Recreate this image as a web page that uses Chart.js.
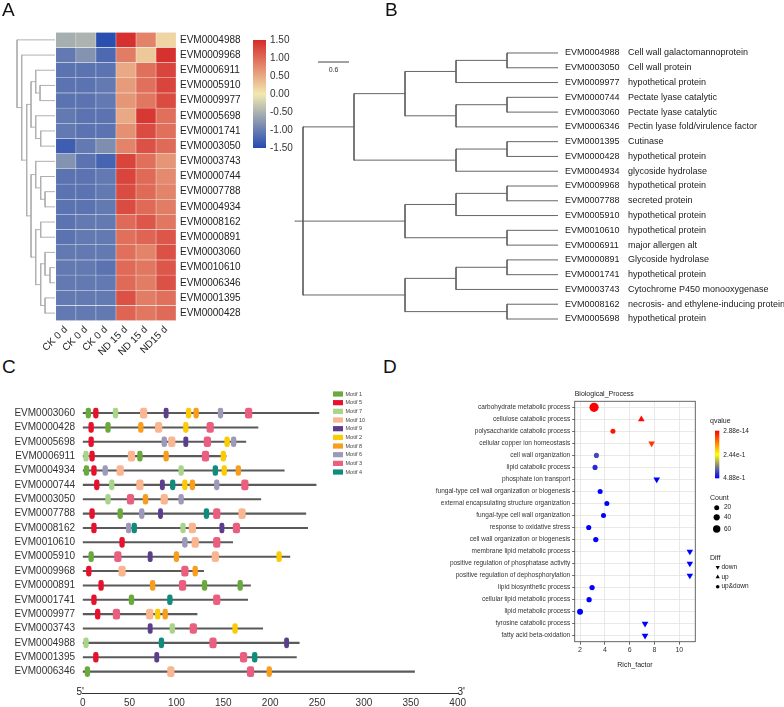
<!DOCTYPE html>
<html>
<head>
<meta charset="utf-8">
<title>Figure</title>
<script src="https://cdn.jsdelivr.net/npm/chart.js@4.4.1/dist/chart.umd.min.js"></script>
<style>
html,body{margin:0;padding:0;background:#fff;overflow:hidden;}
#fig{position:relative;width:784px;height:707px;background:#fff;}
#fig canvas{position:absolute;}
.plabel{position:absolute;font-family:'Liberation Sans',Arial,sans-serif;font-size:19px;line-height:19px;color:#111;}
</style>
</head>
<body>
<div id="fig">
<canvas id="dendA" width="56" height="340" style="left:0px;top:0px"></canvas>
<canvas id="heatA" width="250" height="360" style="left:40px;top:0px"></canvas>
<canvas id="barA" width="70" height="140" style="left:230px;top:20px"></canvas>
<canvas id="treeB" width="494" height="340" style="left:290px;top:0px"></canvas>
<canvas id="motifC" width="470" height="327" style="left:0px;top:380px"></canvas>
<canvas id="goD" width="384" height="327" style="left:400px;top:380px"></canvas>
<div class="plabel" style="left:2px;top:0px">A</div>
<div class="plabel" style="left:385px;top:0px">B</div>
<div class="plabel" style="left:2px;top:357px">C</div>
<div class="plabel" style="left:383px;top:357px">D</div>
</div>
<script>
const FONT = "'Liberation Sans', Arial, Helvetica, sans-serif";
Chart.defaults.font.family = FONT;
Chart.defaults.animation = false;
Chart.defaults.responsive = false;
Chart.defaults.maintainAspectRatio = false;
Chart.defaults.plugins.legend.display = false;
Chart.defaults.plugins.tooltip.enabled = false;
Chart.defaults.events = [];

// ================= Panel A data =================
const heatGenes = ["EVM0004988","EVM0009968","EVM0006911","EVM0005910","EVM0009977","EVM0005698","EVM0001741","EVM0003050","EVM0003743","EVM0000744","EVM0007788","EVM0004934","EVM0008162","EVM0000891","EVM0003060","EVM0010610","EVM0006346","EVM0001395","EVM0000428"];
const heatCols = ["CK 0 d","CK 0 d","CK 0 d","ND 15 d","ND 15 d","ND15 d"];
const ckRep1 = [-0.55,-1.05,-1.1,-1.1,-1.1,-1.05,-1.05,-1.3,-0.8,-1.1,-1.1,-1.1,-1.1,-1.1,-1.05,-1.05,-1.05,-1.05,-1.05];
const ckRep2 = [-0.5,-0.8,-1.1,-1.1,-1.1,-1.1,-1.1,-1.05,-1.1,-1.1,-1.1,-1.1,-1.05,-1.05,-1.05,-1.05,-1.05,-1.05,-1.05];
const ckRep3 = [-1.45,-1.2,-1.1,-1.05,-1.05,-1.1,-1.1,-0.85,-1.25,-1.05,-1.05,-1.05,-1.05,-1.05,-1.05,-1.1,-1.05,-1.05,-1.05];
const ndRep1 = [1.45,0.85,0.5,0.6,0.65,0.5,0.7,0.8,1.3,1.3,1.25,1.25,1.0,0.95,0.95,1.0,1.0,1.2,1.05];
const ndRep2 = [0.8,0.25,0.95,0.95,0.9,1.4,1.25,1.2,0.95,1.0,1.0,1.0,1.15,1.05,0.8,0.9,0.85,0.85,0.9];
const ndRep3 = [0.15,1.45,1.3,1.3,1.25,0.95,0.95,1.0,0.65,0.75,0.8,0.85,0.9,1.15,1.2,1.15,1.2,0.95,1.0];
const heatScaleTicks = [-1.5,-1.0,-0.5,0,0.5,1.0,1.5];
// row dendrogram: [height, child, child]; leaves are row indices
const heatTree = [38, 0, [33.3, 1, [28.3,
  [24, [19.3, 2, [15, 3, 4]], [19.3, 5, [14.3, 6, 7]]],
  [24, [19.3, 8, [14.3, 9, [10, 10, 11]]], [19.3, [14.3, 12, 13], [14.3, [10, 14, [5, 15, 16]], [10, 17, 18]]]]
]]];

// ================= Panel B data =================
const treeGenes = ["EVM0004988","EVM0003050","EVM0009977","EVM0000744","EVM0003060","EVM0006346","EVM0001395","EVM0000428","EVM0004934","EVM0009968","EVM0007788","EVM0005910","EVM0010610","EVM0006911","EVM0000891","EVM0001741","EVM0003743","EVM0008162","EVM0005698"];
const treeDesc = ["Cell wall galactomannoprotein","Cell wall protein","hypothetical protein","Pectate lyase catalytic","Pectate lyase catalytic","Pectin lyase fold/virulence factor","Cutinase","hypothetical protein","glycoside hydrolase","hypothetical protein","secreted protein","hypothetical protein","hypothetical protein","major allergen alt","Glycoside hydrolase","hypothetical protein","Cytochrome P450 monooxygenase","necrosis- and ethylene-inducing protein","hypothetical protein"];
const treeB = [ [ [[[0,1],2],[[3,4],5]], [[6,7],8] ], [[[9,10],11],[12,13]], [[[14,15],16],[17,18]] ];
const treeScaleLabel = "0.6";

// ================= Panel C data =================
const motifGenes = ["EVM0003060","EVM0000428","EVM0005698","EVM0006911","EVM0004934","EVM0000744","EVM0003050","EVM0007788","EVM0008162","EVM0010610","EVM0005910","EVM0009968","EVM0000891","EVM0001741","EVM0009977","EVM0003743","EVM0004988","EVM0001395","EVM0006346"];
const proteinLength = [252,187,174,153,215,249,190,238,240,160,221,129,179,176,122,192,231,228,354];
const motifNames = ["Motif 1","Motif 5","Motif 7","Motif 10","Motif 9","Motif 2","Motif 8","Motif 6","Motif 3","Motif 4"];
const motifColors = ["#6aaa3c","#e8112d","#a9d58a","#f9b690","#5b3f8c","#fbcb05","#f99d1c","#9c99b9","#ea5e80","#0e8c7c"];
const motifWidths = [5,5,5,7,4.5,5,5,5,7,5];
const motif1Sites = [["EVM0003060",6],["EVM0000428",27],["EVM0006911",61],["EVM0004934",4],["EVM0007788",40],["EVM0005910",9],["EVM0000891",130],["EVM0000891",168],["EVM0001741",52],["EVM0006346",5]];
const motif5Sites = [["EVM0003060",14],["EVM0000428",9],["EVM0005698",9],["EVM0006911",10],["EVM0004934",12],["EVM0000744",15],["EVM0007788",10],["EVM0008162",12],["EVM0010610",42],["EVM0009968",6.5],["EVM0000891",19.6],["EVM0001741",12],["EVM0009977",16],["EVM0001395",14]];
const motif7Sites = [["EVM0003060",35],["EVM0006911",3.5],["EVM0004934",105],["EVM0000744",31],["EVM0003050",27],["EVM0008162",107],["EVM0003743",95.6],["EVM0004988",3.5]];
const motif10Sites = [["EVM0003060",65],["EVM0000428",81],["EVM0005698",95],["EVM0006911",52],["EVM0004934",40],["EVM0000744",61],["EVM0003050",87],["EVM0007788",170],["EVM0008162",117],["EVM0010610",120],["EVM0005910",141.5],["EVM0009968",42],["EVM0009977",71.5],["EVM0006346",94]];
const motif9Sites = [["EVM0003060",89],["EVM0005698",110],["EVM0000744",85],["EVM0007788",83],["EVM0008162",148.5],["EVM0005910",72],["EVM0003743",72],["EVM0004988",217.5],["EVM0001395",79]];
const motif2Sites = [["EVM0003060",113],["EVM0000428",110],["EVM0005698",154],["EVM0006911",150],["EVM0004934",151],["EVM0000744",109],["EVM0005910",209.5],["EVM0009977",80],["EVM0003743",162.5]];
const motif8Sites = [["EVM0003060",121],["EVM0000428",62],["EVM0006911",89],["EVM0004934",166],["EVM0000744",117],["EVM0003050",67],["EVM0005910",100],["EVM0009968",120],["EVM0000891",74.6],["EVM0009977",88],["EVM0006346",199]];
const motif6Sites = [["EVM0003060",147],["EVM0005698",87],["EVM0005698",161],["EVM0004934",24],["EVM0000744",143],["EVM0003050",105],["EVM0007788",63],["EVM0008162",49],["EVM0010610",109]];
const motif3Sites = [["EVM0003060",177],["EVM0000428",136],["EVM0005698",133],["EVM0006911",131],["EVM0000744",173],["EVM0003050",51],["EVM0007788",143],["EVM0008162",164],["EVM0010610",143],["EVM0005910",37.5],["EVM0009968",109],["EVM0000891",106.5],["EVM0001741",143],["EVM0009977",36],["EVM0003743",118],["EVM0004988",139],["EVM0001395",171.6],["EVM0006346",179]];
const motif4Sites = [["EVM0004934",141.5],["EVM0000744",96],["EVM0007788",132],["EVM0008162",55],["EVM0001741",93],["EVM0004988",84],["EVM0001395",183.5]];
const motifSites = [motif1Sites,motif5Sites,motif7Sites,motif10Sites,motif9Sites,motif2Sites,motif8Sites,motif6Sites,motif3Sites,motif4Sites];

// ================= Panel D data =================
const goTerms = ["carbohydrate metabolic process","cellulose catabolic process","polysaccharide catabolic process","cellular copper ion homeostasis","cell wall organization","lipid catabolic process","phosphate ion transport","fungal-type cell wall organization or biogenesis","external encapsulating structure organization","fungal-type cell wall organization","response to oxidative stress","cell wall organization or biogenesis","membrane lipid metabolic process","positive regulation of phosphatase activity","positive regulation of dephosphorylation","lipid biosynthetic process","cellular lipid metabolic process","lipid metabolic process","tyrosine catabolic process","fatty acid beta-oxidation"];
const richFactor = [3.13,6.94,4.65,7.77,3.32,3.21,8.18,3.62,4.16,3.89,2.70,3.27,10.85,10.85,10.85,2.97,2.73,2.0,7.24,7.24];
const geneCount = [90,8,20,8,22,22,8,20,20,20,22,24,6,6,6,24,24,36,8,8];
const qValue = [2.88e-14,0.01,0.02,0.05,0.42,0.45,0.488,0.488,0.488,0.488,0.488,0.488,0.488,0.488,0.488,0.488,0.488,0.488,0.488,0.488];
const diffType = ["up&down","up","up&down","down","up&down","up&down","down","up&down","up&down","up&down","up&down","up&down","down","down","down","up&down","up&down","up&down","down","down"];
const qLegendLabels = ["2.88e-14","2.44e-1","4.88e-1"];
const countLegend = [20,40,60];
const diffLegend = ["down","up","up&down"];

// ================= helpers =================
function mix(a, b, t) { return a.map((v, i) => Math.round(v + (b[i] - v) * t)); }
function heatColor(v) {
  const lo = [36,73,177], mid = [242,232,176], hi = [213,43,43];
  const t = Math.max(-1.5, Math.min(1.5, v)) / 1.5;
  const c = t < 0 ? mix(mid, lo, -t) : mix(mid, hi, t);
  return 'rgb(' + c.join(',') + ')';
}
function qColor(q) {
  const t = Math.max(0, Math.min(1, q / 0.488));
  const c = t < 0.5 ? mix([255,0,0],[255,255,0], t*2) : mix([255,255,0],[0,0,255],(t-0.5)*2);
  return 'rgb(' + c.join(',') + ')';
}
function countRadius(n) { return 1.9 + 0.03 * n; }

// ================= Panel A: dendrogram =================
function dendroA(node, segs) {
  if (typeof node === 'number') return {x: 0, y: node};
  const [h, ...kids] = node;
  const pts = kids.map(k => dendroA(k, segs));
  segs.push([[h, pts[0].y], [h, pts[pts.length-1].y]]);
  pts.forEach(p => segs.push([[h, p.y], [p.x, p.y]]));
  return {x: h, y: (pts[0].y + pts[pts.length-1].y) / 2};
}
const segA = []; dendroA(heatTree, segA);
new Chart(document.getElementById('dendA'), {
  type: 'scatter',
  data: { datasets: segA.map(s => ({ data: s.map(([x, y]) => ({x, y})), showLine: true, borderColor: '#b0b0b0', borderWidth: 1, pointRadius: 0, borderCapStyle: 'square' })) },
  options: {
    layout: {padding: {left: 0, right: 1, top: 32.3, bottom: 19.3}},
    scales: {
      x: {type: 'linear', display: false, min: 0, max: 55, reverse: true},
      y: {type: 'linear', display: false, min: -0.5, max: 18.5, reverse: true}
    }
  }
});

// ================= Panel A: heatmap =================
const heatValues = [ckRep1, ckRep2, ckRep3, ndRep1, ndRep2, ndRep3];
new Chart(document.getElementById('heatA'), {
  type: 'bar',
  data: {
    labels: heatGenes,
    datasets: heatCols.map((name, c) => ({
      label: name,
      data: heatGenes.map(() => [c, c + 1]),
      backgroundColor: heatValues[c].map(heatColor),
      borderColor: '#f5f5f5', borderWidth: 0.5, borderSkipped: false,
      barPercentage: 1, categoryPercentage: 1, grouped: false
    }))
  },
  options: {
    indexAxis: 'y',
    layout: {padding: {left: 15, right: 0, top: 32.3, bottom: 0}},
    scales: {
      x: {type: 'linear', position: 'bottom', min: 0, max: heatCols.length,
        afterBuildTicks: s => { s.ticks = heatCols.map((_, i) => ({value: i + 0.5})); },
        afterFit: s => { s.height = 39.3; },
        grid: {display: false, drawTicks: false}, border: {display: false},
        ticks: {autoSkip: false, minRotation: 45, maxRotation: 45, padding: 3, font: {size: 10}, color: '#222',
          callback: (v, i) => heatCols[i]}
      },
      y: {type: 'category', position: 'right',
        afterFit: s => { s.width = 114; },
        grid: {display: false, drawTicks: false}, border: {display: false},
        ticks: {padding: 4, font: {size: 10}, color: '#222', autoSkip: false}
      }
    }
  }
});

// ================= Panel A: colour key =================
new Chart(document.getElementById('barA'), {
  type: 'bar',
  data: { labels: [''], datasets: [{
    data: [[heatScaleTicks[0], heatScaleTicks[heatScaleTicks.length-1]]],
    backgroundColor: ctx => {
      const a = ctx.chart.chartArea; if (!a) return '#ccc';
      const g = ctx.chart.ctx.createLinearGradient(0, a.bottom, 0, a.top);
      for (let i = 0; i <= 12; i++) g.addColorStop(i/12, heatColor(-1.5 + 3*i/12));
      return g;
    },
    borderWidth: 0, barPercentage: 1, categoryPercentage: 1
  }]},
  options: {
    layout: {padding: {left: 23, right: 0, top: 20, bottom: 12}},
    scales: {
      x: {display: false},
      y: {position: 'right', min: -1.5, max: 1.5,
        afterBuildTicks: s => { s.ticks = heatScaleTicks.map(v => ({value: v})); },
        afterFit: s => { s.width = 34; },
        grid: {display: false, drawTicks: false}, border: {display: false},
        ticks: {padding: 4, font: {size: 10}, color: '#333', callback: v => Number(v).toFixed(2)}
      }
    }
  }
});

// ================= Panel B: tree =================
function depthOf(node) { return Array.isArray(node) ? 1 + Math.max(...node.map(depthOf)) : 0; }
const maxDepth = depthOf(treeB);
function cladeB(node, segs) {
  if (!Array.isArray(node)) return {x: maxDepth, y: node};
  const x = maxDepth - depthOf(node);
  const pts = node.map(k => cladeB(k, segs));
  segs.push([[x, pts[0].y], [x, pts[pts.length-1].y]]);
  pts.forEach(p => segs.push([[x, p.y], [p.x, p.y]]));
  const y = pts.length % 2 ? pts[(pts.length-1)/2].y : (pts[0].y + pts[pts.length-1].y) / 2;
  return {x, y};
}
const segB = [];
const rootB = cladeB(treeB, segB);
segB.push([[-0.16, rootB.y], [0, rootB.y]]);
const treeScalePlugin = {
  id: 'treeScale',
  afterDraw(chart) {
    const {ctx, chartArea} = chart;
    ctx.save();
    ctx.strokeStyle = '#444'; ctx.lineWidth = 1;
    const x0 = chartArea.left + 25.2, x1 = chartArea.left + 56.2, y = 62;
    ctx.beginPath(); ctx.moveTo(x0, y); ctx.lineTo(x1, y); ctx.stroke();
    ctx.fillStyle = '#333'; ctx.font = '7px ' + FONT; ctx.textAlign = 'center'; ctx.textBaseline = 'middle';
    ctx.fillText(treeScaleLabel, (x0 + x1) / 2, 70.5);
    ctx.restore();
  }
};
new Chart(document.getElementById('treeB'), {
  type: 'scatter',
  data: { datasets: segB.map(s => ({ data: s.map(([x, y]) => ({x, y})), showLine: true, borderColor: '#666', borderWidth: 1, pointRadius: 0, borderCapStyle: 'square' })) },
  options: {
    layout: {padding: {left: 2.8, right: 0, top: 45.6, bottom: 13.6}},
    scales: {
      x: {type: 'linear', display: false, min: -0.2, max: maxDepth},
      y: {type: 'linear', display: false, min: -0.5, max: 18.5, reverse: true},
      yId: {type: 'linear', position: 'right', min: -0.5, max: 18.5, reverse: true, weight: 0,
        afterBuildTicks: s => { s.ticks = treeGenes.map((_, i) => ({value: i})); },
        afterFit: s => { s.width = 62; },
        grid: {display: false, drawTicks: false}, border: {display: false},
        ticks: {autoSkip: false, padding: 7, font: {size: 9}, color: '#222', callback: v => treeGenes[v]}
      },
      yDesc: {type: 'linear', position: 'right', min: -0.5, max: 18.5, reverse: true, weight: 1,
        afterBuildTicks: s => { s.ticks = treeDesc.map((_, i) => ({value: i})); },
        afterFit: s => { s.width = 164; },
        grid: {display: false, drawTicks: false}, border: {display: false},
        ticks: {autoSkip: false, padding: 8, font: {size: 9}, color: '#222', callback: v => treeDesc[v]}
      }
    }
  },
  plugins: [treeScalePlugin]
});

// ================= Panel C: motifs =================
const motifLegendPlugin = {
  id: 'motifLegend',
  afterDraw(chart) {
    const {ctx, chartArea} = chart;
    ctx.save();
    ctx.font = '10px ' + FONT; ctx.fillStyle = '#222'; ctx.textAlign = 'center'; ctx.textBaseline = 'middle';
    ctx.fillText("5'", chartArea.left - 2.5, chartArea.bottom - 1.5);
    ctx.fillText("3'", chartArea.right + 3.5, chartArea.bottom - 1.5);
    ctx.font = '5.5px ' + FONT; ctx.textAlign = 'left';
    motifNames.forEach((name, k) => {
      const y = 14 + k * 8.67;
      ctx.fillStyle = motifColors[k];
      ctx.fillRect(333, y - 2.6, 10, 5.2);
      ctx.fillStyle = '#444';
      ctx.fillText(name, 345.5, y);
    });
    ctx.restore();
  }
};
new Chart(document.getElementById('motifC'), {
  type: 'bar',
  data: { datasets: [
    { label: 'protein', order: 2, data: motifGenes.map((g, i) => ({x: [0, proteinLength[i]], y: i})),
      backgroundColor: '#5a5a5a', barThickness: 1.4, grouped: false, borderWidth: 0 },
    ...motifNames.map((name, k) => ({
      label: name, order: 1,
      data: motifSites[k].map(([g, s]) => ({x: [s - motifWidths[k]/2, s + motifWidths[k]/2], y: motifGenes.indexOf(g)})),
      backgroundColor: motifColors[k], barThickness: 10, borderRadius: 2.5, borderSkipped: false, borderWidth: 0, grouped: false
    }))
  ]},
  options: {
    indexAxis: 'y',
    layout: {padding: {left: 0, right: 6.7, top: 18.1, bottom: 0}},
    scales: {
      x: {type: 'linear', position: 'bottom', min: 0, max: 400,
        afterFit: s => { s.height = 13; },
        grid: {display: false, drawTicks: false}, border: {display: true, color: '#333', width: 1},
        ticks: {stepSize: 50, padding: 4, font: {size: 10}, color: '#333'}
      },
      y: {type: 'linear', position: 'left', min: -0.5, max: 18.97, reverse: true,
        afterBuildTicks: s => { s.ticks = motifGenes.map((_, i) => ({value: i})); },
        afterFit: s => { s.width = 82.7; },
        grid: {display: false, drawTicks: false}, border: {display: false},
        ticks: {autoSkip: false, padding: 7.7, font: {size: 10}, color: '#333', callback: v => motifGenes[v]}
      }
    }
  },
  plugins: [motifLegendPlugin]
});

// ================= Panel D: GO enrichment =================
const OX = 400, OY = 380;
const goPlugin = {
  id: 'goExtras',
  afterDraw(chart) {
    const {ctx, chartArea: a} = chart;
    ctx.save();
    ctx.strokeStyle = '#555'; ctx.lineWidth = 0.9;
    ctx.strokeRect(a.left, a.top, a.right - a.left, a.bottom - a.top);
    ctx.fillStyle = '#222'; ctx.font = '7px ' + FONT; ctx.textAlign = 'left'; ctx.textBaseline = 'middle';
    ctx.fillText('Biological_Process', a.left, a.top - 7.3);
    // qvalue legend
    ctx.fillText('qvalue', 710 - OX, 421 - OY);
    const gx = 715 - OX, gy = 430.7 - OY, gh = 47.6;
    const g = ctx.createLinearGradient(0, gy, 0, gy + gh);
    for (let i = 0; i <= 10; i++) g.addColorStop(i/10, qColor(0.488 * i / 10));
    ctx.fillStyle = g; ctx.fillRect(gx, gy, 4.3, gh);
    ctx.fillStyle = '#222'; ctx.font = '6.5px ' + FONT;
    qLegendLabels.forEach((t, i) => ctx.fillText(t, 723.3 - OX, gy + gh * i / 2 + 0.3));
    // count legend
    ctx.font = '7px ' + FONT;
    ctx.fillText('Count', 710 - OX, 497.7 - OY);
    const cy = [507.7, 517.3, 529];
    ctx.font = '6.5px ' + FONT;
    countLegend.forEach((n, i) => {
      ctx.fillStyle = '#000'; ctx.beginPath(); ctx.arc(716.7 - OX, cy[i] - OY, countRadius(n), 0, Math.PI * 2); ctx.fill();
      ctx.fillStyle = '#222'; ctx.fillText(String(n), 724 - OX, cy[i] - OY);
    });
    // diff legend
    ctx.font = '7px ' + FONT;
    ctx.fillText('Diff', 710 - OX, 557.7 - OY);
    ctx.font = '6.5px ' + FONT;
    const dy = [567.3, 577, 586.7];
    diffLegend.forEach((d, i) => {
      const x = 717.7 - OX, y = dy[i] - OY;
      ctx.fillStyle = '#000';
      Chart.helpers.drawPoint(ctx, {pointStyle: d === 'up&down' ? 'circle' : 'triangle', rotation: d === 'down' ? 180 : 0, radius: d === 'up&down' ? 1.8 : 2.4, borderWidth: 0}, x, y);
      ctx.fillStyle = '#222'; ctx.fillText(d, 721.5 - OX, y);
    });
    ctx.restore();
  }
};
new Chart(document.getElementById('goD'), {
  type: 'scatter',
  data: { datasets: [{
    data: goTerms.map((t, i) => ({x: richFactor[i], y: t})),
    pointRadius: ctx => countRadius(geneCount[ctx.dataIndex]) * (diffType[ctx.dataIndex] === 'up&down' ? 1 : 1.8),
    pointStyle: ctx => diffType[ctx.dataIndex] === 'up&down' ? 'circle' : 'triangle',
    pointRotation: ctx => diffType[ctx.dataIndex] === 'down' ? 180 : 0,
    pointBackgroundColor: ctx => qColor(qValue[ctx.dataIndex]),
    pointBorderWidth: 0, pointBorderColor: 'rgba(0,0,0,0)'
  }]},
  options: {
    layout: {padding: {left: 0, right: 88.7, top: 21.3, bottom: 37.3}},
    scales: {
      x: {type: 'linear', min: 1.57, max: 11.29,
        afterBuildTicks: s => { s.ticks = [2,4,6,8,10].map(v => ({value: v})); },
        afterFit: s => { s.height = 28; },
        grid: {color: '#e3e3e3', lineWidth: 0.8, tickColor: '#444', tickLength: 3},
        border: {display: false},
        ticks: {padding: 1, font: {size: 7}, color: '#333'},
        title: {display: true, text: 'Rich_factor', font: {size: 7}, color: '#222', padding: 0}
      },
      y: {type: 'category', labels: goTerms, offset: true,
        afterFit: s => { s.width = 174.7; },
        grid: {color: '#e3e3e3', lineWidth: 0.8, tickColor: '#444', tickLength: 2.5},
        border: {display: false},
        ticks: {autoSkip: false, padding: 2, font: {size: 6.5}, color: '#333'}
      }
    }
  },
  plugins: [goPlugin]
});
</script>
</body>
</html>
